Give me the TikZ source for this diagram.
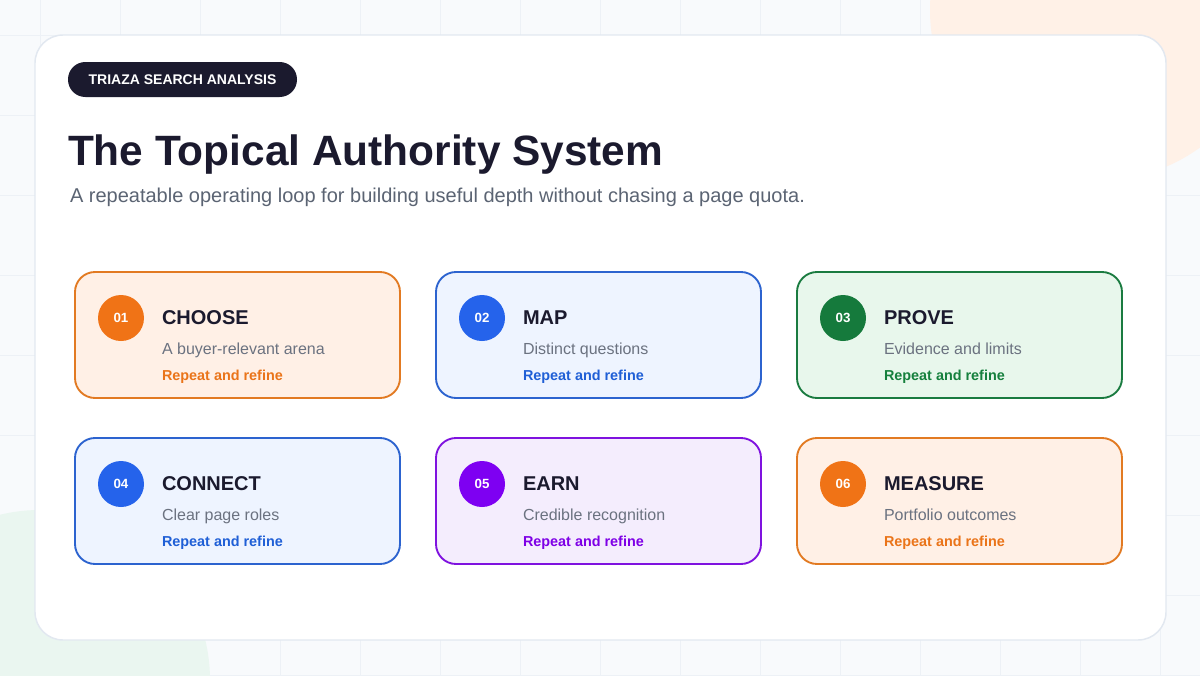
\documentclass[tikz,border=0pt]{standalone}
\usepackage{fontspec}
\setmainfont{Liberation Sans}
\usetikzlibrary{positioning,calc}

\definecolor{ink}{HTML}{1B1A2E}
\definecolor{slate}{HTML}{5B6473}
\definecolor{muted}{HTML}{6B7280}
\definecolor{pagebg}{HTML}{F8FAFC}
\definecolor{gridln}{HTML}{EDF1F6}
\definecolor{frame}{HTML}{E2E8F0}
\definecolor{peach}{HTML}{FFF1E7}
\definecolor{mint}{HTML}{EAF6F0}
% card palettes
\definecolor{orngline}{HTML}{E27A22}
\definecolor{orngfill}{HTML}{FFF0E6}
\definecolor{orngdot}{HTML}{F07316}
\definecolor{orngtext}{HTML}{EA7419}
\definecolor{blueline}{HTML}{2C63CF}
\definecolor{bluefill}{HTML}{EEF4FF}
\definecolor{bluedot}{HTML}{2563EB}
\definecolor{bluetext}{HTML}{1F5FD6}
\definecolor{grenline}{HTML}{1A7B40}
\definecolor{grenfill}{HTML}{E8F7EC}
\definecolor{grendot}{HTML}{157A3C}
\definecolor{grentext}{HTML}{15803D}
\definecolor{purpline}{HTML}{7F12DF}
\definecolor{purpfill}{HTML}{F4EDFD}
\definecolor{purpdot}{HTML}{7E00F2}
\definecolor{purptext}{HTML}{7E00E6}

\tikzset{main base/.style={inner sep=0pt,outer sep=0pt}, }
\tikzset{sheet/.style={rectangle,main base,rounded corners=21pt,draw=frame,fill=white,line width=1.1pt,
    minimum width=848.25pt,minimum height=453.75pt}, }
\tikzset{badge/.style={rectangle,main base,rounded corners=13pt,fill=ink,text=white,
    minimum width=171.75pt,minimum height=26.25pt,font=\bfseries\fontsize{10.5}{12}\selectfont}, }
\tikzset{headline/.style={main base,anchor=base west,text=ink,font=\bfseries\fontsize{31.8}{36}\selectfont}, }
\tikzset{subline/.style={main base,anchor=base west,text=slate,font=\fontsize{15}{18}\selectfont}, }
\tikzset{card/.style={rectangle,main base,rounded corners=15pt,line width=1.4pt,
    minimum width=243.75pt,minimum height=94.5pt,draw=#1line,fill=#1fill}, }
\tikzset{numdot/.style={circle,main base,minimum size=34.5pt,fill=#1dot,text=white,
    font=\bfseries\fontsize{10}{12}\selectfont}, }
\tikzset{cardtitle/.style={main base,anchor=base west,text=ink,font=\bfseries\fontsize{15}{18}\selectfont}, }
\tikzset{carddesc/.style={main base,anchor=base west,text=muted,font=\fontsize{12}{14}\selectfont}, }
\tikzset{cardnote/.style={main base,anchor=base west,text=#1text,font=\bfseries\fontsize{10.8}{12}\selectfont}, }

\begin{document}
\begin{tikzpicture}[x=0.75pt,y=-0.75pt]
  \useasboundingbox (0,0) rectangle (1200,675);
  % backdrop
  \fill[pagebg] (0,0) rectangle (1200,675);
  \foreach \x in {40,120,...,1160}
    \draw[gridln,line width=0.75pt] (\x,0) -- (\x,675);
  \foreach \y in {35,115,...,675}
    \draw[gridln,line width=0.75pt] (0,\y) -- (1200,\y);
  \fill[peach] (1100,10) circle[radius=127.5pt];
  \fill[mint] (40,680) circle[radius=127.5pt];
  %
  \node[sheet] (sheet) at (600.5,337.5) {};
  \node[badge] (tag) at (182.5,79.5) {TRIAZA SEARCH ANALYSIS};
  \node[headline] (head) at (68,165) {The Topical Authority System};
  \node[subline] (sub) at (70,202) {A repeatable operating loop for building useful depth without chasing a page quota.};
  %
  \foreach \n/\px/\py/\col/\word/\desc in {01/75/272/orng/CHOOSE/A buyer-relevant arena,
      02/436/272/blue/MAP/Distinct questions, 03/797/272/gren/PROVE/Evidence and limits,
      04/75/438/blue/CONNECT/Clear page roles, 05/436/438/purp/EARN/Credible recognition,
      06/797/438/orng/MEASURE/Portfolio outcomes}
  {
    \node[card=\col,anchor=north west] (c\n) at (\px,\py) {};
    \node[numdot=\col] (n\n) at ($(c\n.north west)+(46,46)$) {\n};
    \node[cardtitle] (t\n) at ($(c\n.north west)+(87,52)$) {\word};
    \node[carddesc] (d\n) at ($(c\n.north west)+(87,82)$) {\desc};
    \node[cardnote=\col] (r\n) at ($(c\n.north west)+(87,108)$) {Repeat and refine};
  }
%
\end{tikzpicture}
\end{document}
